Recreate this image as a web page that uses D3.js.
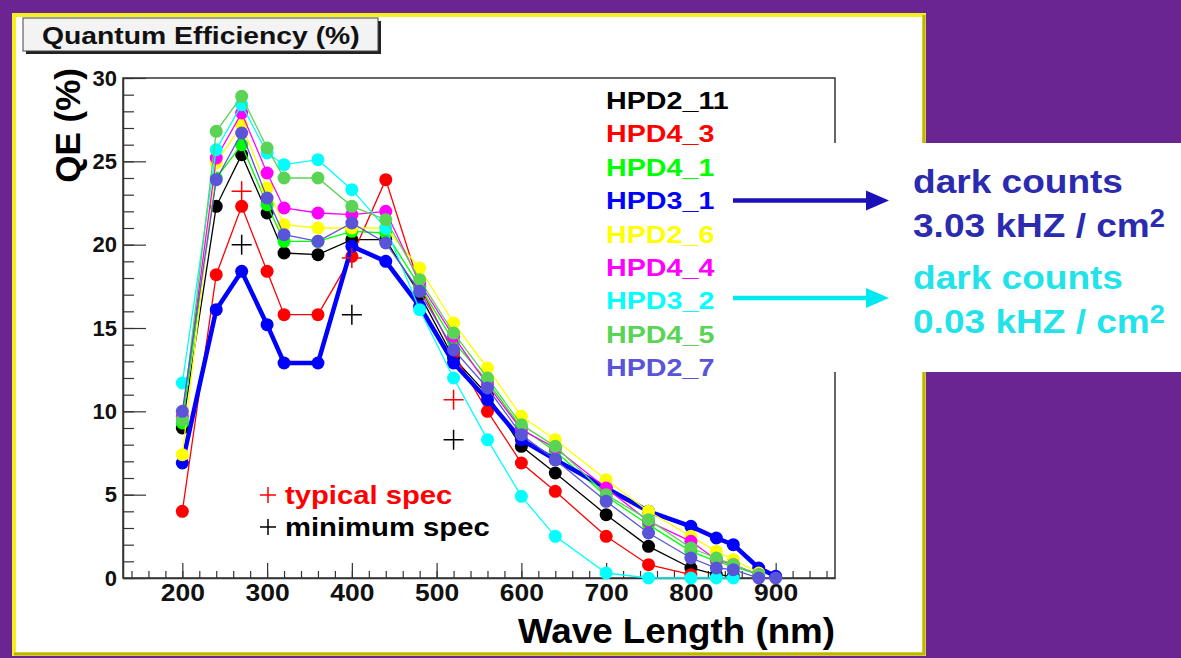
<!DOCTYPE html>
<html>
<head>
<meta charset="utf-8">
<script src="https://cdn.jsdelivr.net/npm/d3@7"></script>
<style>
  body { margin: 0; background: #6b2593; }
  svg { display: block; }
  text { font-family: "Liberation Sans", Arial, sans-serif; font-weight: bold; }
</style>
</head>
<body>
<div id="main"></div>
<script>
'use strict';

// wavelengths (nm) where QE was measured
var wavelengths = [200, 240, 270, 300, 320, 360, 400, 440, 480, 520, 560, 600, 640, 700, 750, 800, 830, 850, 880, 900];

// QE (%) per tube
var hpd2_11 = [9.0, 22.3, 25.4, 21.9, 19.5, 19.4, 20.3, 20.3, 17.0, 13.2, 11.0, 7.9, 6.3, 3.8, 1.9, 0.6, 0.2, 0.1, null, null];
var hpd4_3  = [4.0, 18.2, 22.3, 18.4, 15.8, 15.8, 19.3, 23.9, 17.5, 13.5, 10.0, 6.9, 5.2, 2.5, 0.8, 0.2, null, null, null, null];
var hpd4_1  = [9.3, 24.0, 26.0, 22.4, 20.2, 20.2, 20.8, 20.7, 17.5, 14.2, 11.8, 9.0, 7.6, 4.9, 3.2, 1.6, 1.0, 0.7, 0.2, null];
var hpd3_1  = [6.9, 16.1, 18.4, 15.2, 12.9, 12.9, 19.9, 19.0, 16.3, 12.9, 10.7, 8.3, 7.1, 5.4, 4.0, 3.1, 2.4, 2.0, 0.6, 0.1];
var hpd2_6  = [7.4, 24.9, 27.2, 23.4, 21.2, 21.0, 21.0, 21.0, 18.6, 15.3, 12.6, 9.7, 8.3, 5.9, 4.0, 2.5, 1.6, 1.1, 0.3, null];
var hpd4_4  = [9.7, 25.2, 27.9, 24.3, 22.2, 21.9, 21.8, 22.0, 17.7, 14.5, 11.6, 8.9, 7.8, 5.4, 3.4, 2.2, 1.1, 0.8, 0.2, null];
var hpd3_2  = [11.7, 25.7, 28.4, 25.5, 24.8, 25.1, 23.3, 21.0, 16.1, 12.0, 8.3, 4.9, 2.5, 0.3, 0.0, 0.0, 0.0, 0.0, null, null];
var hpd4_5  = [9.5, 26.8, 28.9, 25.8, 24.0, 24.0, 22.3, 21.5, 17.9, 14.7, 12.0, 9.2, 7.9, 5.0, 3.5, 1.8, 1.2, 0.8, 0.2, null];
var hpd2_7  = [10.0, 23.9, 26.7, 22.8, 20.6, 20.2, 21.3, 20.1, 17.2, 13.7, 11.4, 8.6, 7.1, 4.6, 2.7, 1.2, 0.6, 0.5, 0.0, 0.0];

var seriesNames  = ['HPD2_11', 'HPD4_3', 'HPD4_1', 'HPD3_1', 'HPD2_6', 'HPD4_4', 'HPD3_2', 'HPD4_5', 'HPD2_7'];
var seriesValues = [hpd2_11, hpd4_3, hpd4_1, hpd3_1, hpd2_6, hpd4_4, hpd3_2, hpd4_5, hpd2_7];
var seriesColors = ['#000000', '#ff0000', '#00ff00', '#0000ff', '#ffff00', '#ff00ff', '#00ffff', '#59d454', '#5954d8'];

// spec crosses
var specWavelengths = [270, 400, 520];
var typicalSpec = [23.2, 19.2, 10.7];
var minimumSpec = [20.0, 15.8, 8.3];

var xMajor = [200, 300, 400, 500, 600, 700, 800, 900];
var xMinor = d3.range(140, 970, 20);
var yMajor = [0, 5, 10, 15, 20, 25, 30];
var yMinor = d3.range(0, 31, 1);

var width = 1181;
var height = 658;
var purple = '#6b2593';

var svg = d3.select('#main').append('svg')
	.attr('width', width)
	.attr('height', height);

svg.append('rect').attr('width', width).attr('height', height).attr('fill', purple);

// slide panel with yellow border
svg.append('rect')
	.attr('x', 14).attr('y', 15).attr('width', 910).attr('height', 639)
	.attr('fill', 'white')
	.attr('stroke', '#f4f020').attr('stroke-width', 4);
svg.append('path')
	.attr('d', 'M924,15 V654 H14')
	.attr('fill', 'none').attr('stroke', '#b9b21c').attr('stroke-width', 3);

var x = d3.scaleLinear().domain([130, 970]).range([123, 835]);
var y = d3.scaleLinear().domain([0, 30]).range([578, 78]);

var chart = svg.append('g');

// frame
chart.append('rect')
	.attr('x', x.range()[0]).attr('y', y.range()[1])
	.attr('width', x.range()[1] - x.range()[0])
	.attr('height', y.range()[0] - y.range()[1])
	.attr('fill', 'none').attr('stroke', '#333').attr('stroke-width', 1.5);

// axes
var xAxis = chart.append('g').attr('transform', 'translate(0,' + y(0) + ')')
	.call(d3.axisBottom(x).tickValues(xMajor).tickSize(-15).tickSizeOuter(0).tickPadding(7));
chart.append('g').attr('transform', 'translate(0,' + y(0) + ')')
	.call(d3.axisBottom(x).tickValues(xMinor).tickSize(-7).tickFormat(''))
	.select('.domain').remove();
var yAxis = chart.append('g').attr('transform', 'translate(' + x(130) + ',0)')
	.call(d3.axisLeft(y).tickValues(yMajor).tickSize(-23).tickSizeOuter(0).tickPadding(6));
chart.append('g').attr('transform', 'translate(' + x(130) + ',0)')
	.call(d3.axisLeft(y).tickValues(yMinor).tickSize(-11).tickFormat(''))
	.select('.domain').remove();

chart.selectAll('.domain').attr('stroke', '#333').attr('stroke-width', 1.5);
chart.selectAll('.tick line').attr('stroke', '#333').attr('stroke-width', 1.2);
xAxis.selectAll('text')
	.attr('font-size', 23).attr('font-family', 'Liberation Sans').attr('font-weight', 'bold')
	.attr('fill', '#111').attr('transform', 'scale(1.15,1)');
yAxis.selectAll('text')
	.attr('font-size', 22).attr('font-family', 'Liberation Sans').attr('font-weight', 'bold')
	.attr('fill', '#111');

// axis titles
chart.append('text')
	.attr('x', 835).attr('y', 643)
	.attr('text-anchor', 'end')
	.attr('font-size', 35)
	.attr('textLength', 317).attr('lengthAdjust', 'spacingAndGlyphs')
	.text('Wave Length (nm)');
chart.append('text')
	.attr('transform', 'translate(80,68) rotate(-90)')
	.attr('text-anchor', 'end')
	.attr('font-size', 35)
	.text('QE (%)');

// data lines and markers
var line = d3.line()
	.defined(function (d) { return d.v !== null; })
	.x(function (d) { return x(d.w); })
	.y(function (d) { return y(d.v); });

seriesValues.forEach(function (vals, i) {
	var pts = wavelengths.map(function (w, j) { return { w: w, v: vals[j] }; });
	var g = chart.append('g');
	var isThick = seriesNames[i] === 'HPD3_1';
	g.append('path')
		.datum(pts)
		.attr('d', line)
		.attr('fill', 'none')
		.attr('stroke', seriesColors[i])
		.attr('stroke-width', isThick ? 4.5 : 1.3);
	g.selectAll('circle')
		.data(pts.filter(function (d) { return d.v !== null; }))
		.enter().append('circle')
		.attr('cx', function (d) { return x(d.w); })
		.attr('cy', function (d) { return y(d.v); })
		.attr('r', 6.5)
		.attr('fill', seriesColors[i]);
});

// spec crosses
function crosses(vals, color) {
	chart.append('g').selectAll('path')
		.data(specWavelengths.map(function (w, j) { return { w: w, v: vals[j] }; }))
		.enter().append('path')
		.attr('d', function (d) {
			var cx = x(d.w), cy = y(d.v);
			return 'M' + (cx - 10) + ',' + cy + 'H' + (cx + 10) + 'M' + cx + ',' + (cy - 10) + 'V' + (cy + 10);
		})
		.attr('stroke', color).attr('stroke-width', 1.5);
}
crosses(typicalSpec, '#ff0000');
crosses(minimumSpec, '#000000');

// spec legend
var specLegend = [{ label: 'typical spec', color: '#ff0000' }, { label: 'minimum spec', color: '#000000' }];
specLegend.forEach(function (d, i) {
	var cy = 495 + i * 32;
	chart.append('path')
		.attr('d', 'M260,' + cy + 'H276M268,' + (cy - 8) + 'V' + (cy + 8))
		.attr('stroke', d.color).attr('stroke-width', 1.5);
	chart.append('text')
		.attr('transform', 'translate(285,' + (cy + 9) + ') scale(1.17,1)')
		.attr('font-size', 25)
		.attr('fill', d.color)
		.text(d.label);
});

// title box
svg.append('rect').attr('x', 26).attr('y', 21).attr('width', 355).attr('height', 33).attr('fill', '#222');
svg.append('rect').attr('x', 23).attr('y', 18).attr('width', 355).attr('height', 33)
	.attr('fill', '#f3f3f3').attr('stroke', '#444').attr('stroke-width', 1);
svg.append('text')
	.attr('transform', 'translate(42,44) scale(1.18,1)')
	.attr('font-size', 24)
	.attr('fill', '#111')
	.text('Quantum Efficiency (%)');

// right white box
svg.append('rect')
	.attr('x', 832).attr('y', 143).attr('width', width - 832).attr('height', 229)
	.attr('fill', 'white');

// legend
var legend = svg.append('g');
seriesNames.forEach(function (name, i) {
	legend.append('text')
		.attr('transform', 'translate(606,' + (109 + i * 33.4) + ') scale(1.17,1)')
		.attr('font-size', 24.5)
		.attr('fill', seriesColors[i])
		.text(name);
});

// arrows
var arrows = [{ y: 200.5, color: '#1c10b8' }, { y: 298, color: '#00e8f0' }];
arrows.forEach(function (a) {
	svg.append('line')
		.attr('x1', 733).attr('x2', 870).attr('y1', a.y).attr('y2', a.y)
		.attr('stroke', a.color).attr('stroke-width', 4.5);
	svg.append('path')
		.attr('d', 'M866,' + (a.y - 10) + 'L889,' + a.y + 'L866,' + (a.y + 10) + 'Z')
		.attr('fill', a.color);
});

// dark count notes
var notes = [
	{ y: 193, color: '#2b2bb0', rate: '3.03' },
	{ y: 288.5, color: '#22e2ea', rate: '0.03' }
];
notes.forEach(function (n) {
	svg.append('text')
		.attr('transform', 'translate(913,' + n.y + ') scale(1.09,1)')
		.attr('font-size', 34)
		.attr('fill', n.color)
		.text('dark counts');
	var t = svg.append('text')
		.attr('transform', 'translate(913,' + (n.y + 44) + ') scale(1.09,1)')
		.attr('font-size', 34)
		.attr('fill', n.color);
	t.append('tspan').text(n.rate + ' kHZ / cm');
	t.append('tspan').attr('font-size', 25).attr('dy', -10).text('2');
});
</script>
</body>
</html>
